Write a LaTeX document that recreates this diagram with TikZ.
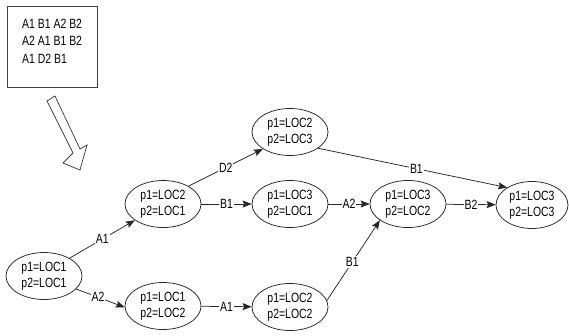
\documentclass[tikz,border=0pt]{standalone}
\usepackage{fontspec}
\setmainfont{Liberation Sans}[FakeStretch=0.78]
\usetikzlibrary{shapes.geometric,arrows.meta}
\begin{document}
\begin{tikzpicture}[x=1pt,y=-1pt,
  st/.style={ellipse,draw=black!85,line width=0.75pt,minimum width=76pt,minimum height=47pt,inner sep=0pt,align=center,font=\fontsize{13.4}{16}\selectfont},
  ar/.style={draw=black!85,line width=0.75pt,-{Stealth[length=9pt,width=7pt,inset=1.5pt]}},
  lb/.style={fill=white,inner sep=1pt,font=\fontsize{13.4}{15}\selectfont}]
\useasboundingbox (0,0) rectangle (569,335);
% sequence box
\node[draw=black!75,line width=0.75pt,minimum width=90pt,minimum height=81pt,inner sep=0pt] (box) at (52,46.5) {};
\node[anchor=north west,inner sep=0pt,align=left,font=\fontsize{13.4}{17.5}\selectfont] (seq) at (22,18.5) {A1 B1 A2 B2\\A2 A1 B1 B2\\A1 D2 B1};
% hollow arrow
\draw[black!75,line width=0.75pt,line join=miter] (47,101) -- (73,153) -- (63,163) -- (80,170) -- (87,145) -- (80,149) -- (55,96) -- cycle;
% states
\node[st] (E0) at (44,276) {p1=LOC1\\p2=LOC1};
\node[st] (E1) at (163,204) {p1=LOC2\\p2=LOC1};
\node[st] (E2) at (163,306) {p1=LOC1\\p2=LOC2};
\node[st] (E3) at (290,132) {p1=LOC2\\p2=LOC3};
\node[st] (E4) at (290,204) {p1=LOC3\\p2=LOC1};
\node[st] (E5) at (408,204) {p1=LOC3\\p2=LOC2};
\node[st,minimum width=72pt] (E6) at (532,205) {p1=LOC3\\p2=LOC3};
\node[st] (E7) at (290,307) {p1=LOC2\\p2=LOC2};
% transitions
\draw[ar] (E0.35) -- node[lb,pos=0.5] {A1} (E1.210);
\draw[ar] (E0.338) -- node[lb,pos=0.45] {A2} (E2.182);
\draw[ar] (E1.35) -- node[lb,pos=0.5] {D2} (E3.212);
\draw[ar] (E1) -- node[lb] {B1} (E4);
\draw[ar] (E4) -- node[lb] {A2} (E5);
\draw[ar] (E5) -- node[lb] {B2} (E6);
\draw[ar] (E2) -- node[lb] {A1} (E7);
\draw[ar] (E3.330) -- node[lb,pos=0.52] {B1} (E6.145);
\draw[ar] (E7.10) -- node[lb,pos=0.48] {B1} (E5.210);
\end{tikzpicture}
\end{document}
